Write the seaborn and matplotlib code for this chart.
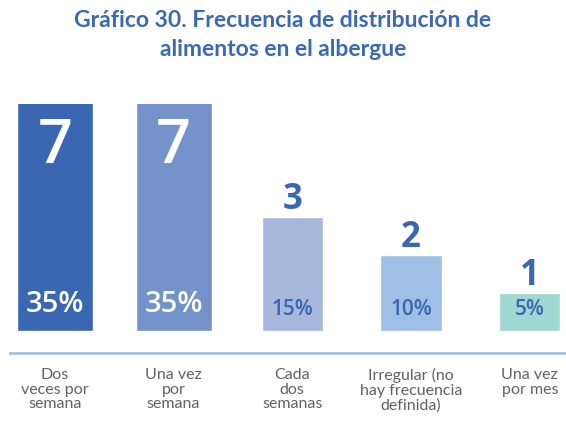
import matplotlib
matplotlib.use("Agg")
import matplotlib.pyplot as plt
import seaborn as sns

categories = ["Dos\nveces por\nsemana", "Una vez\npor\nsemana", "Cada\ndos\nsemanas",
              "Irregular (no\nhay frecuencia\ndefinida)", "Una vez\npor mes"]
counts = [7, 7, 3, 2, 1]
percents = [35, 35, 15, 10, 5]
colors = ["#3a67b1", "#7393ca", "#a6b8dc", "#9dc0e4", "#9fd8d3"]
bar_widths = [0.64, 0.64, 0.515, 0.515, 0.515]

sns.set_theme(style="white")
plt.rcParams['font.family'] = ['Lato', 'DejaVu Sans']

fig = plt.figure(figsize=(5.66, 4.26), dpi=100)
ax = fig.add_axes([10 / 566, 73 / 426, 556 / 566, 249 / 426])

sns.barplot(x=categories, y=counts, hue=categories, palette=colors, legend=False,
            width=0.6, saturation=1, ax=ax)

for patch, w in zip(ax.patches, bar_widths):
    cx = patch.get_x() + patch.get_width() / 2
    patch.set_width(w)
    patch.set_x(cx - w / 2)

# tall bars run past the top of the axes and get cut, as in the original
ax.set_xlim(-0.377, 4.305)
ax.set_ylim(-0.579, 5.974)

blue = "#3a67b1"
num_font = ["Open Sans", "DejaVu Sans"]
for i, (v, p) in enumerate(zip(counts, percents)):
    if v >= 5:
        ax.text(i, 4.42, str(v), ha="center", va="baseline", color="white",
                fontsize=44, fontweight="semibold", family=num_font)
        ax.text(i, 0.5, f"{p}%", ha="center", va="baseline", color="white",
                fontsize=21, fontweight="semibold", family=num_font)
    else:
        ax.text(i, v + 0.2, str(v), ha="center", va="baseline", color=blue,
                fontsize=25, fontweight="bold", family=num_font)
        ax.text(i, 0.42, f"{p}%", ha="center", va="baseline", color=blue,
                fontsize=15, fontweight="semibold", family=num_font)

for s in ["top", "right", "left"]:
    ax.spines[s].set_visible(False)
ax.spines["bottom"].set_color("#a9bfe0")
ax.spines["bottom"].set_linewidth(2)
ax.set_yticks([])
ax.set_ylabel("")
ax.tick_params(axis="x", length=0, pad=11)
ax.set_xticks(range(len(categories)))
ax.set_xticklabels(categories, fontsize=11.5, color="#626262", linespacing=1.05)

fig.text(0.5, 1 - 10 / 426, "Gráfico 30. Frecuencia de distribución de\nalimentos en el albergue",
         ha="center", va="top", color="#3c69b4", fontsize=16.5, fontweight="bold",
         linespacing=1.45)

fig.savefig("out.png", dpi=100)
